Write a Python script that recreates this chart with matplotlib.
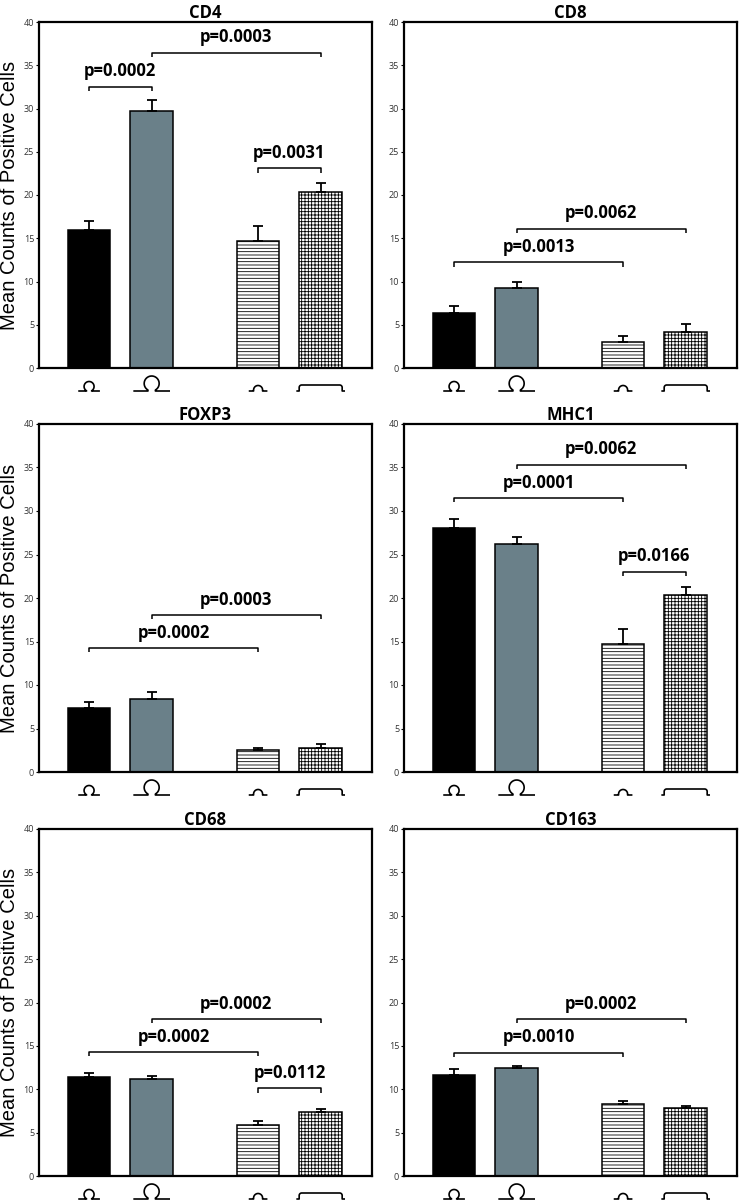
import numpy as np
import matplotlib
matplotlib.use("Agg")
import matplotlib.pyplot as plt
import matplotlib.transforms as mtransforms
from matplotlib.lines import Line2D

plt.rcParams['hatch.linewidth'] = 0.6
plt.rcParams['hatch.color'] = 'black'

# ---- data ----
panels = ["CD4", "CD8", "FOXP3", "MHC1", "CD68", "CD163"]
x_pos = [0, 1, 2.7, 3.7]

cd4_mean = [15.9, 29.7, 14.7, 20.4]
cd4_err = [1.15, 1.3, 1.75, 1.0]
cd8_mean = [6.4, 9.3, 3.0, 4.2]
cd8_err = [0.8, 0.65, 0.75, 0.9]
foxp3_mean = [7.35, 8.35, 2.5, 2.8]
foxp3_err = [0.65, 0.85, 0.3, 0.4]
mhc1_mean = [28.1, 26.25, 14.7, 20.3]
mhc1_err = [1.0, 0.8, 1.7, 1.0]
cd68_mean = [11.4, 11.2, 5.9, 7.35]
cd68_err = [0.45, 0.3, 0.4, 0.4]
cd163_mean = [11.7, 12.4, 8.35, 7.8]
cd163_err = [0.65, 0.3, 0.35, 0.3]

# comparisons: (bar a, bar b, bracket height, label)
cd4_p = [(0, 1, 32.5, "p=0.0002"), (1, 3, 36.45, "p=0.0003"), (2, 3, 23.1, "p=0.0031")]
cd8_p = [(0, 2, 12.2, "p=0.0013"), (1, 3, 16.1, "p=0.0062")]
foxp3_p = [(0, 2, 14.25, "p=0.0002"), (1, 3, 18.05, "p=0.0003")]
mhc1_p = [(0, 2, 31.5, "p=0.0001"), (1, 3, 35.3, "p=0.0062"), (2, 3, 23.0, "p=0.0166")]
cd68_p = [(0, 2, 14.3, "p=0.0002"), (1, 3, 18.1, "p=0.0002"), (2, 3, 10.1, "p=0.0112")]
cd163_p = [(0, 2, 14.2, "p=0.0010"), (1, 3, 18.1, "p=0.0002")]

means = [cd4_mean, cd8_mean, foxp3_mean, mhc1_mean, cd68_mean, cd163_mean]
errs = [cd4_err, cd8_err, foxp3_err, mhc1_err, cd68_err, cd163_err]
pvals = [cd4_p, cd8_p, foxp3_p, mhc1_p, cd68_p, cd163_p]

bar_colors = ['black', '#6a8089', 'white', 'white']
bar_hatches = [None, None, '-----', '+++++']


def arc(cx, cy, r, a0, a1, n=30):
    t = np.radians(np.linspace(a0, a1, n))
    return list(cx + r * np.cos(t)), list(cy + r * np.sin(t))


# x "tick label" icons, in pixels relative to (bar centre, axis bottom)
def icon_small_loop():
    ax_, ay_ = arc(0, -18.5, 5, 240, -60)
    return [-10, -2.5] + ax_ + [2.5, 10], [-23, -23] + ay_ + [-23, -23]


def icon_big_loop():
    ax_, ay_ = arc(0, -15.5, 7.5, 240, -60)
    return [-17.5, -3.7] + ax_ + [3.7, 17.5], [-23, -23] + ay_ + [-23, -23]


def icon_small_bump():
    ax_, ay_ = arc(0, -22, 4.5, 180, 0)
    return [-8.5, -4.5] + ax_ + [4.5, 8.5], [-23, -23] + ay_ + [-23, -23]


def icon_flat_bump():
    lx, ly = arc(-19, -19.5, 2.5, 180, 90, 10)
    rx, ry = arc(19, -19.5, 2.5, 90, 0, 10)
    return [-23.5, -21.5] + lx + rx + [21.5, 23.5], [-23, -23] + ly + ry + [-23, -23]


icons = [icon_small_loop(), icon_big_loop(), icon_small_bump(), icon_flat_bump()]

fig = plt.figure(figsize=(7.42, 12), dpi=100)

col_left = [39 / 742, 404 / 742]
col_w = 333 / 742
row_box = [(22, 368), (424, 772), (829, 1176)]

for k, name in enumerate(panels):
    r, c = divmod(k, 2)
    top, bot = row_box[r]
    ax = fig.add_axes([col_left[c], 1 - bot / 1200, col_w, (bot - top) / 1200])

    for i in range(4):
        ax.bar(x_pos[i], means[k][i], width=0.68, color=bar_colors[i],
               edgecolor='black', linewidth=1.1, hatch=bar_hatches[i], zorder=2)
    ax.errorbar(x_pos, means[k], yerr=[[0] * 4, errs[k]], fmt='none',
                ecolor='black', elinewidth=1.3, capsize=3.5, capthick=1.3, zorder=3)

    for a, b, y, label in pvals[k]:
        xa, xb = x_pos[a], x_pos[b]
        ax.plot([xa, xa, xb, xb], [y - 0.5, y, y, y - 0.5], color='black',
                lw=1.1, solid_capstyle='butt', zorder=3)
        ax.text((xa + xb) / 2, y + 1.2, label, ha='center', va='baseline',
                fontsize=12, fontweight='bold', family='Open Sans')

    ax.set_xlim(-0.8, 4.52)
    ax.set_ylim(0, 40)
    ax.set_yticks(range(0, 41, 5))
    ax.set_xticks([])
    ax.tick_params(axis='y', labelsize=6.5, length=2, width=0.8, pad=1.5,
                   labelcolor='#333333')
    for lab in ax.get_yticklabels():
        lab.set_family('Open Sans')
    for sp in ax.spines.values():
        sp.set_linewidth(1.6)
    ax.set_title(name, fontsize=12, fontweight='bold', family='Open Sans', pad=3)

    for i, (ix, iy) in enumerate(icons):
        tr = mtransforms.Affine2D().scale(fig.dpi / 100) + \
            mtransforms.ScaledTranslation(x_pos[i], 0, ax.get_xaxis_transform())
        ax.add_line(Line2D(ix, iy, color='black', lw=1.2, transform=tr, clip_on=False))

    if c == 0:
        fig.text(10 / 742, 1 - (top + bot) / 2 / 1200, "Mean Counts of Positive Cells",
                 rotation=90, ha='center', va='center', fontsize=14.5,
                 family='Liberation Sans')

fig.savefig("out.png", dpi=100)
